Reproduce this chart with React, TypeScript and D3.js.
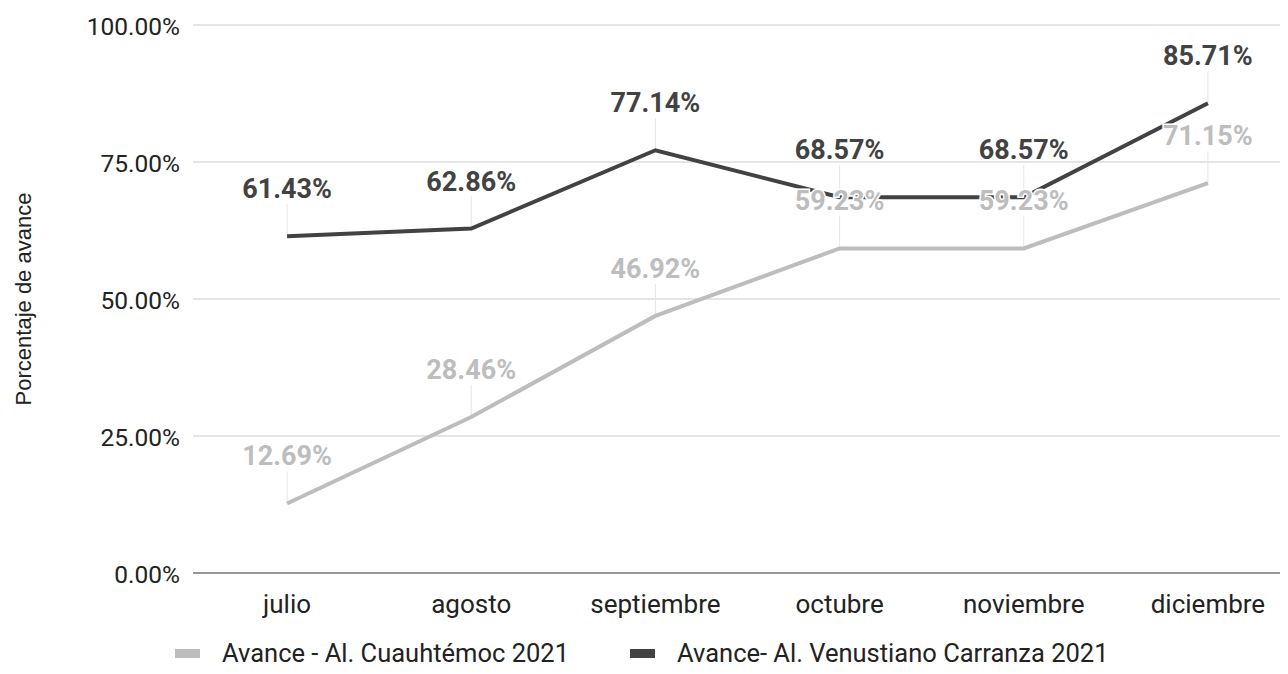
import React, { useEffect, useRef } from "react";
import * as d3 from "d3";

const months = ["julio", "agosto", "septiembre", "octubre", "noviembre", "diciembre"];
const cuauhtemoc = [12.69, 28.46, 46.92, 59.23, 59.23, 71.15];
const venustiano = [61.43, 62.86, 77.14, 68.57, 68.57, 85.71];
const yTicks = [0, 25, 50, 75, 100];
const seriesNames = ["Avance - Al. Cuauhtémoc 2021", "Avance- Al. Venustiano Carranza 2021"];
const seriesColors = ["#bdbdbd", "#424242"];

const width = 1288;
const height = 674;

export default function App() {
  const svgRef = useRef<SVGSVGElement>(null);

  useEffect(() => {
    if (!svgRef.current) return;
    const svg = d3.select(svgRef.current);
    svg.selectAll("*").remove();

    const font = "Roboto, 'Noto Sans', sans-serif";
    const x = d3.scaleBand<string>().domain(months).range([195, 1300]);
    const cx = (m: string) => (x(m) as number) + x.bandwidth() / 2;
    const y = d3.scaleLinear().domain([0, 100]).range([573, 25]);
    const left = 193;

    // grid
    svg
      .append("g")
      .selectAll("line")
      .data(yTicks)
      .join("line")
      .attr("x1", left)
      .attr("x2", width)
      .attr("y1", (d) => y(d))
      .attr("y2", (d) => y(d))
      .attr("stroke", (d) => (d === 0 ? "#333" : "#cccccc"))
      .attr("stroke-width", 1.2);

    // y tick labels
    svg
      .append("g")
      .selectAll("text")
      .data(yTicks)
      .join("text")
      .attr("x", 180)
      .attr("y", (d) => y(d) + 9.5)
      .attr("text-anchor", "end")
      .style("font-family", font)
      .style("font-size", "24.5px")
      .attr("fill", "#222")
      .text((d) => d.toFixed(2) + "%");

    // x labels
    svg
      .append("g")
      .selectAll("text")
      .data(months)
      .join("text")
      .attr("x", (d) => cx(d))
      .attr("y", 613)
      .attr("text-anchor", "middle")
      .style("font-family", font)
      .style("font-size", "26px")
      .attr("fill", "#222")
      .text((d) => d);

    // y title
    svg
      .append("text")
      .attr("transform", `translate(31,${y(50)}) rotate(-90)`)
      .attr("text-anchor", "middle")
      .style("font-family", "'Liberation Sans', Arial, sans-serif")
      .style("font-size", "22px")
      .attr("fill", "#222")
      .text("Porcentaje de avance");

    const series = [cuauhtemoc, venustiano];

    // leader lines
    series.forEach((vals) => {
      svg
        .append("g")
        .selectAll("line")
        .data(vals)
        .join("line")
        .attr("x1", (_, i) => cx(months[i]))
        .attr("x2", (_, i) => cx(months[i]))
        .attr("y1", (d) => y(d) - 32)
        .attr("y2", (d) => y(d))
        .attr("stroke", "#e6e6e6")
        .attr("stroke-width", 1);
    });

    const line = d3
      .line<number>()
      .x((_, i) => cx(months[i]))
      .y((d) => y(d));

    series.forEach((vals, s) => {
      svg
        .append("path")
        .datum(vals)
        .attr("d", line)
        .attr("fill", "none")
        .attr("stroke", seriesColors[s])
        .attr("stroke-width", 4);
    });

    // data labels
    series.forEach((vals, s) => {
      svg
        .append("g")
        .selectAll("text")
        .data(vals)
        .join("text")
        .attr("x", (_, i) => cx(months[i]))
        .attr("y", (d) => y(d) - 38)
        .attr("text-anchor", "middle")
        .style("font-family", font)
        .style("font-size", "27px")
        .style("font-weight", "bold")
        .style("paint-order", "stroke")
        .attr("stroke", "#fff")
        .attr("stroke-width", 3)
        .attr("fill", seriesColors[s])
        .text((d) => d.toFixed(2) + "%");
    });

    // legend
    const legendX = [175, 630];
    seriesNames.forEach((name, s) => {
      svg
        .append("rect")
        .attr("x", legendX[s])
        .attr("y", 649)
        .attr("width", 25)
        .attr("height", 9)
        .attr("fill", seriesColors[s]);
      svg
        .append("text")
        .attr("x", legendX[s] + 47)
        .attr("y", 662)
        .style("font-family", font)
        .style("font-size", "25.5px")
        .attr("fill", "#222")
        .text(name);
    });
  }, []);

  return (
    <div style={{ margin: -8 }}>
      <svg ref={svgRef} width={width} height={height} style={{ display: "block" }} />
    </div>
  );
}
